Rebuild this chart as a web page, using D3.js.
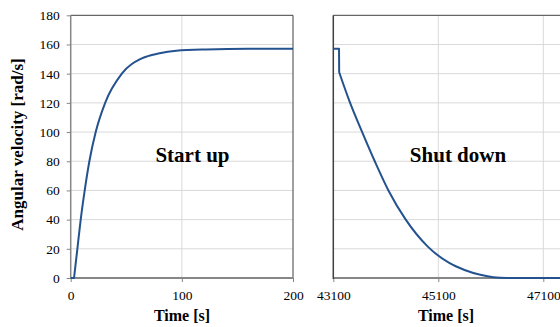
<!DOCTYPE html>
<html>
<head>
<meta charset="utf-8">
<script src="https://cdn.jsdelivr.net/npm/d3@7"></script>
<style>
  html, body { margin: 0; padding: 0; background: #fff; }
  svg { display: block; }
</style>
</head>
<body>
<svg id="chart" width="560" height="327"></svg>
<script>
// ---- data ----
const startTime = [0, 3, 6, 9, 12.6, 16.8, 22.5, 31, 46, 64, 80, 95, 122, 160, 200];
const startOmega = [0, 0, 20, 40, 60, 80, 100, 120, 140, 150.5, 154, 155.7, 156.6, 157, 157];

const shutTime = [43100, 43209, 43212, 43420, 43650, 43890, 44150, 44480, 44900, 45300, 45600, 45900, 46148, 46400, 47500];
const shutOmega = [157, 157, 141, 120, 100, 80, 60, 40, 21.5, 10.5, 5.5, 2.2, 0.5, 0, 0];

const yTicks = [0, 20, 40, 60, 80, 100, 120, 140, 160, 180];
const startXTicks = [0, 100, 200];
const shutXTicks = [43100, 45100, 47100];

const yLabel = "Angular velocity [rad/s]";
const xLabel = "Time [s]";
const startLabel = "Start up";
const shutLabel = "Shut down";

// ---- layout ----
const FONT = "'Liberation Serif', 'Times New Roman', serif";
const svg = d3.select("#chart");
const plotTop = 15.3, plotBottom = 278;
const y = d3.scaleLinear().domain([0, 180]).range([plotBottom, plotTop]);
const xL = d3.scaleLinear().domain([0, 200]).range([70.7, 293]);
const xR = d3.scaleLinear().domain([43100, 47500]).range([333.3, 333.3 + 4400 * 0.0525]);

const lineColor = "#24528f";
const gridColor = "#d9d9d9";

// splitIdx: index where the sharp corner is; before it straight segments, after it a smooth curve
function panel(x, xTicks, tT, tV, splitIdx, isLeft, titleX) {
  const g = svg.append("g");
  const [x0, x1] = x.range();
  g.selectAll(".hg").data(yTicks.filter(d => d > 0 && d < 180)).join("line")
    .attr("x1", x0).attr("x2", x1)
    .attr("y1", d => y(d)).attr("y2", d => y(d))
    .attr("stroke", gridColor).attr("stroke-width", 1);
  g.selectAll(".vg").data(xTicks.filter(d => x(d) > x0 + 1 && x(d) < x1 - 1)).join("line")
    .attr("x1", d => x(d)).attr("x2", d => x(d))
    .attr("y1", plotTop).attr("y2", plotBottom)
    .attr("stroke", gridColor).attr("stroke-width", 1);
  g.append("line").attr("x1", x0).attr("x2", x1).attr("y1", plotTop).attr("y2", plotTop)
    .attr("stroke", "#404040").attr("stroke-width", 1);
  if (isLeft) {
    g.append("line").attr("x1", x1).attr("x2", x1).attr("y1", plotTop).attr("y2", plotBottom)
      .attr("stroke", "#404040").attr("stroke-width", 1);
  }
  const xa = g.append("g").attr("transform", `translate(0,${plotBottom})`)
    .call(d3.axisBottom(x).tickValues(xTicks).tickSize(4).tickSizeOuter(0).tickPadding(8).tickFormat(d3.format("d")));
  xa.select(".domain").remove();
  xa.selectAll(".tick line").attr("stroke", "#868686");
  xa.selectAll("text").style("font-family", FONT).style("font-size", "13.5px").attr("fill", "#000");
  g.append("line").attr("x1", x0).attr("x2", x1).attr("y1", plotBottom).attr("y2", plotBottom)
    .attr("stroke", "#868686").attr("stroke-width", 2);
  if (isLeft) {
    const ya = g.append("g").attr("transform", `translate(${x0},0)`)
      .call(d3.axisLeft(y).tickValues(yTicks).tickSize(4).tickSizeOuter(0).tickPadding(7));
    ya.select(".domain").remove();
    ya.selectAll(".tick line").attr("stroke", "#868686");
    ya.selectAll("text").style("font-family", FONT).style("font-size", "13.5px").attr("fill", "#000");
    g.append("line").attr("x1", x0).attr("x2", x0).attr("y1", plotTop).attr("y2", plotBottom + 1)
      .attr("stroke", "#868686").attr("stroke-width", 1.5);
  } else {
    g.append("line").attr("x1", x0).attr("x2", x0).attr("y1", plotTop).attr("y2", plotBottom + 1)
      .attr("stroke", "#404040").attr("stroke-width", 1.5);
  }
  const pts = tT.map((t, i) => [t, tV[i]]);
  const straight = pts.slice(0, splitIdx + 1);
  const smooth = pts.slice(splitIdx);
  const lx = d => x(d[0]), ly = d => y(d[1]);
  const p1 = d3.line().x(lx).y(ly)(straight);
  const p2 = d3.line().x(lx).y(ly).curve(d3.curveMonotoneX)(smooth);
  g.append("path")
    .attr("fill", "none").attr("stroke", lineColor).attr("stroke-width", 2)
    .attr("stroke-linejoin", "round")
    .attr("d", p1 + p2.replace(/^M/, "L"));
  g.append("text").attr("x", titleX).attr("y", 321)
    .attr("text-anchor", "middle").style("font-family", FONT).style("font-weight", "bold").style("font-size", "16px")
    .text(xLabel);
  return g;
}

panel(xL, startXTicks, startTime, startOmega, 1, true, 182);
panel(xR, shutXTicks, shutTime, shutOmega, 2, false, 446);

svg.append("text").attr("x", 192.5).attr("y", 162).attr("text-anchor", "middle")
  .style("font-family", FONT).style("font-weight", "bold").style("font-size", "21px").text(startLabel);
svg.append("text").attr("x", 458).attr("y", 162).attr("text-anchor", "middle")
  .style("font-family", FONT).style("font-weight", "bold").style("font-size", "21px").text(shutLabel);

svg.append("text").attr("transform", "translate(23,144.5) rotate(-90)")
  .attr("text-anchor", "middle").style("font-family", FONT).style("font-weight", "bold").style("font-size", "17px")
  .text(yLabel);
</script>
</body>
</html>
